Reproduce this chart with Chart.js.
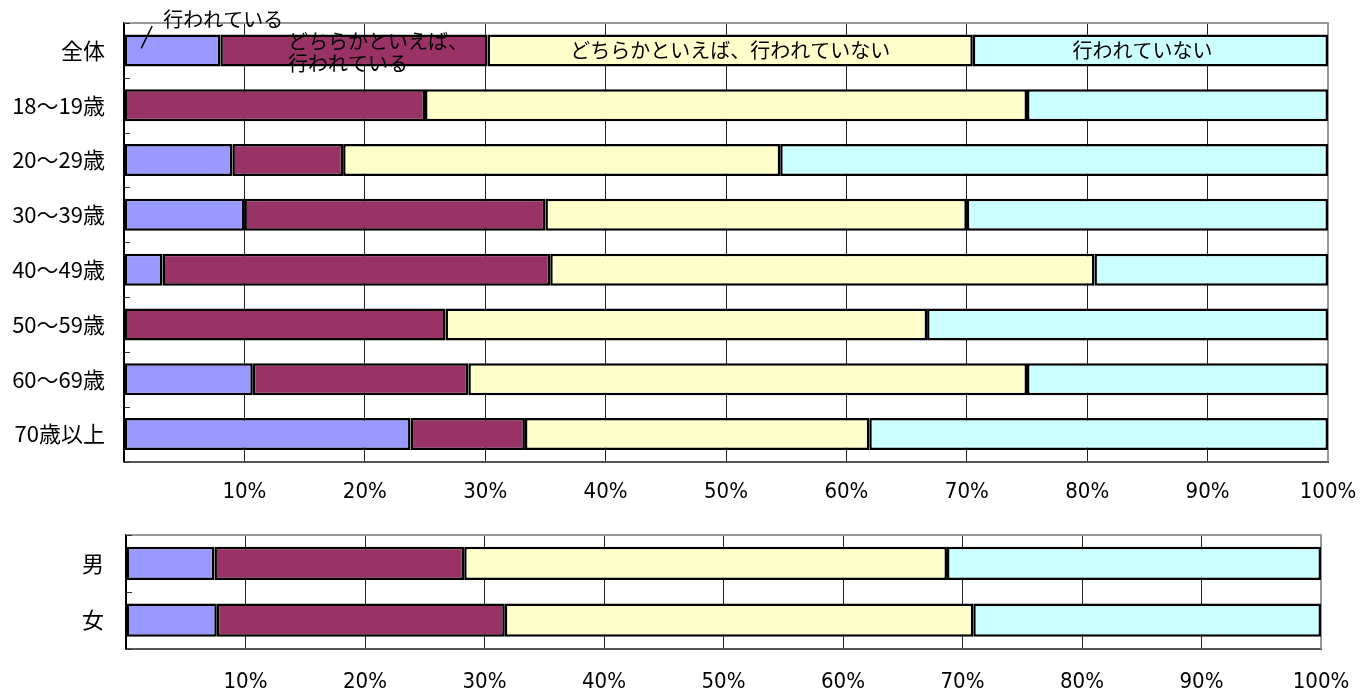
<!DOCTYPE html>
<html lang="ja">
<head>
<meta charset="utf-8">
<title>行われているか（年齢別・性別）</title>
<script src="https://cdn.jsdelivr.net/npm/chart.js@4/dist/chart.umd.min.js"></script>
<style>
  html, body { margin: 0; padding: 0; background: #fff; }
  body { width: 1367px; height: 695px; position: relative; overflow: hidden; }
  canvas { position: absolute; left: 0; }
  #ageChart { top: 0; }
  #sexChart { top: 500px; }
</style>
</head>
<body>
<canvas id="ageChart" width="1367" height="520"></canvas>
<canvas id="sexChart" width="1367" height="195"></canvas>
<script>
// 回答の区分
const seriesNames = ['行われている', 'どちらかといえば、行われている', 'どちらかといえば、行われていない', '行われていない'];
const seriesColors = ['#9999FF', '#993366', '#FFFFCC', '#CCFFFF'];

// 年齢別 (%)
const ageLabels = ['全体', '18〜19歳', '20〜29歳', '30〜39歳', '40〜49歳', '50〜59歳', '60〜69歳', '70歳以上'];
const ageDone = [8.0, 0, 9.0, 10.0, 3.2, 0, 10.7, 23.8];
const ageRather = [22.2, 25.0, 9.2, 25.0, 32.2, 26.7, 17.9, 9.5];
const ageRatherNot = [40.3, 50.0, 36.3, 35.0, 45.2, 40.0, 46.4, 28.6];
const ageNot = [29.5, 25.0, 45.5, 30.0, 19.4, 33.3, 25.0, 38.1];

// 性別 (%)
const sexLabels = ['男', '女'];
const sexDone = [7.4, 7.6];
const sexRather = [20.9, 24.1];
const sexRatherNot = [40.4, 39.2];
const sexNot = [31.3, 29.1];

const xTicks = [0, 10, 20, 30, 40, 50, 60, 70, 80, 90, 100];

const jpFont = "'Noto Sans CJK JP', 'Noto Sans', sans-serif";
const numFont = "'Liberation Sans Narrow', 'DejaVu Sans Condensed', 'Liberation Sans', sans-serif";

// 枠線（上・右）と左側の短い目盛り
const frameLines = {
    id: 'frameLines',
    beforeDatasetsDraw(chart) {
        const { ctx, chartArea: a, scales: { y } } = chart;
        ctx.save();
        ctx.strokeStyle = '#999';
        ctx.lineWidth = 2;
        ctx.beginPath();
        ctx.moveTo(a.left, a.top);
        ctx.lineTo(a.right, a.top);
        ctx.lineTo(a.right, a.bottom);
        ctx.stroke();

        ctx.strokeStyle = '#333';
        ctx.lineWidth = 1;
        for (let i = 0; i <= y.ticks.length; i++) {
            const py = Math.round(y.getPixelForValue(i - 0.5)) + 0.5;
            ctx.beginPath();
            ctx.moveTo(a.left, py);
            ctx.lineTo(a.left + 6, py);
            ctx.stroke();
        }
        ctx.restore();
    }
};

// 全体の行に区分名を書く
const segmentLabels = {
    id: 'segmentLabels',
    afterDatasetsDraw(chart) {
        const { ctx, scales: { x, y } } = chart;
        const yc = y.getPixelForValue(0);
        let acc = 0;
        const mids = chart.data.datasets.map(ds => {
            const m = acc + ds.data[0] / 2;
            acc += ds.data[0];
            return x.getPixelForValue(m);
        });

        ctx.save();
        ctx.fillStyle = '#000';
        ctx.font = `20px ${jpFont}`;
        ctx.textBaseline = 'middle';

        // 行われている（引き出し線つき）
        ctx.textAlign = 'left';
        ctx.fillText(seriesNames[0], mids[0] - 9, chart.chartArea.top - 4);
        ctx.strokeStyle = '#000';
        ctx.lineWidth = 1.5;
        ctx.beginPath();
        ctx.moveTo(mids[0] - 31, yc - 2);
        ctx.lineTo(mids[0] - 20, chart.chartArea.top + 3);
        ctx.stroke();

        // どちらかといえば、行われている（2行）
        ctx.fillText('どちらかといえば、', mids[1] - 66, yc - 9);
        ctx.fillText('行われている', mids[1] - 66, yc + 13);

        ctx.textAlign = 'center';
        ctx.fillText(seriesNames[2], mids[2], yc);
        ctx.fillText(seriesNames[3], mids[3] - 8, yc);
        ctx.restore();
    }
};

function makeDatasets(values, barPct) {
    return values.map((data, i) => ({
        label: seriesNames[i],
        data: data,
        backgroundColor: seriesColors[i],
        borderColor: '#000',
        borderWidth: 2.5,
        borderSkipped: false,
        barPercentage: barPct,
        categoryPercentage: 1.0,
    }));
}

function makeChart(canvasId, labels, values, cfg) {
    const ctx = document.getElementById(canvasId).getContext('2d');
    return new Chart(ctx, {
        type: 'bar',
        data: {
            labels: labels,
            datasets: makeDatasets(values, cfg.barPct),
        },
        options: {
            indexAxis: 'y',
            responsive: false,
            animation: false,
            devicePixelRatio: 1,
            layout: { padding: { top: cfg.top, right: cfg.right, left: 0, bottom: 0 } },
            plugins: {
                legend: { display: false },
                tooltip: { enabled: false },
            },
            scales: {
                x: {
                    stacked: true,
                    min: 0,
                    max: 100,
                    afterBuildTicks: scale => { scale.ticks = xTicks.map(v => ({ value: v })); },
                    afterFit: scale => { scale.height = cfg.xHeight; },
                    // tick marks are invisible; their length only spaces the labels
                    grid: { color: '#222', lineWidth: 1, drawTicks: true, tickLength: cfg.xPad, tickColor: 'rgba(0,0,0,0)' },
                    border: { color: '#555', width: 2 },
                    ticks: {
                        padding: 0,
                        color: '#000',
                        maxRotation: 0,
                        font: { family: numFont, size: 22 },
                        callback: v => (v === 0 ? '' : v + '%'),
                    },
                },
                y: {
                    stacked: true,
                    afterFit: scale => { scale.width = cfg.left; },
                    grid: { drawOnChartArea: false, drawTicks: true, tickLength: cfg.yPad, tickColor: 'rgba(0,0,0,0)' },
                    border: { color: '#000', width: 2 },
                    ticks: {
                        padding: 0,
                        color: '#000',
                        font: { family: jpFont, size: 22 },
                    },
                },
            },
        },
        plugins: cfg.plugins,
    });
}

makeChart('ageChart', ageLabels, [ageDone, ageRather, ageRatherNot, ageNot], {
    barPct: 0.584, top: 23, right: 39, left: 124, xHeight: 58.5, xPad: 18, yPad: 19,
    plugins: [frameLines, segmentLabels],
});

makeChart('sexChart', sexLabels, [sexDone, sexRather, sexRatherNot, sexNot], {
    barPct: 0.59, top: 35, right: 46, left: 126, xHeight: 46.5, xPad: 21, yPad: 22,
    plugins: [frameLines],
});
</script>
</body>
</html>
